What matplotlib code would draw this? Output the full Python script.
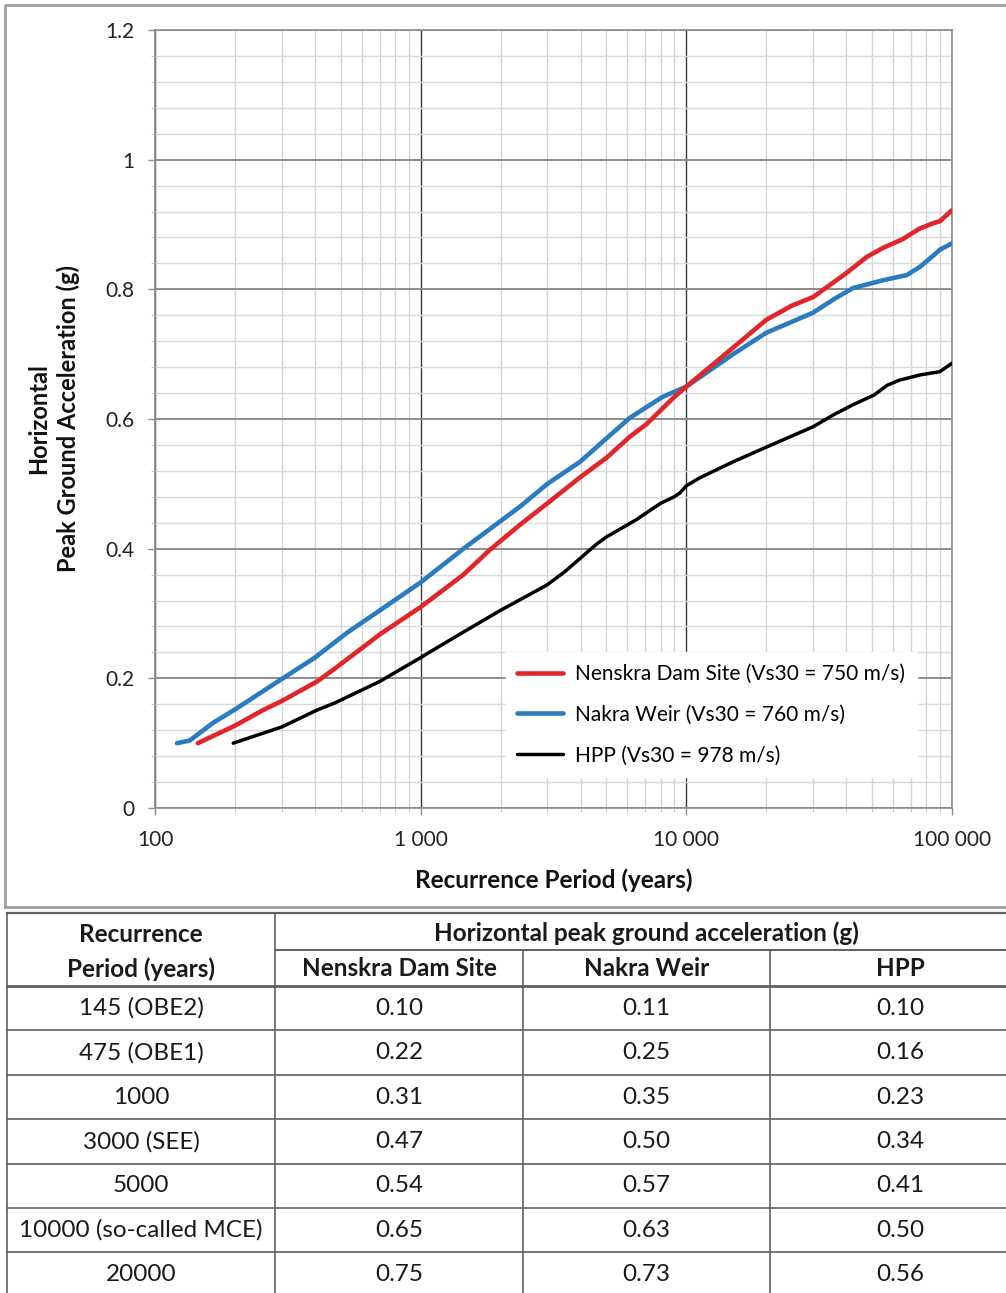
import numpy as np
import matplotlib
matplotlib.use('Agg')
import matplotlib.pyplot as plt
from matplotlib.ticker import FixedLocator, LogLocator, MultipleLocator, FuncFormatter, NullFormatter

plt.rcParams['font.family'] = ['Lato', 'DejaVu Sans']

# ---- curve data ----
nenskra_T = [145, 200, 255, 300, 407, 475, 607, 703, 1000, 1450, 1820, 2367, 3000,
             3980, 5000, 6140, 7080, 8900, 10000, 15000, 20000, 25000, 30000, 40000,
             47800, 55000, 65000, 75000, 85000, 90000, 100000]
nenskra_pga = [0.10, 0.127, 0.151, 0.165, 0.195, 0.215, 0.248, 0.268, 0.31, 0.36, 0.398,
               0.437, 0.47, 0.51, 0.54, 0.573, 0.592, 0.632, 0.650, 0.71, 0.753, 0.775,
               0.788, 0.825, 0.85, 0.864, 0.877, 0.893, 0.902, 0.905, 0.922]

nakra_T = [121, 135, 165, 200, 295, 400, 527, 703, 1000, 1450, 2367, 3000, 3980, 5000,
           6140, 8130, 10000, 15000, 20000, 30000, 36000, 42400, 55000, 67600, 75900,
           85000, 90000, 100000]
nakra_pga = [0.10, 0.104, 0.131, 0.152, 0.197, 0.232, 0.27, 0.305, 0.348, 0.40, 0.465,
             0.50, 0.534, 0.57, 0.602, 0.634, 0.65, 0.70, 0.733, 0.764, 0.785, 0.802,
             0.814, 0.822, 0.835, 0.852, 0.861, 0.871]

hpp_T = [197, 300, 407, 475, 700, 1000, 1150, 1500, 2000, 2990, 3500, 4560, 5000, 6500,
         8000, 9000, 9460, 10000, 11200, 15000, 20100, 30000, 36000, 42400, 50900,
         57000, 63500, 75900, 90000, 100000]
hpp_pga = [0.10, 0.125, 0.151, 0.162, 0.195, 0.232, 0.247, 0.275, 0.305, 0.344, 0.365,
           0.406, 0.418, 0.445, 0.47, 0.48, 0.486, 0.497, 0.509, 0.534, 0.557, 0.588,
           0.607, 0.622, 0.637, 0.652, 0.66, 0.668, 0.673, 0.686]

legend_labels = ['Nenskra Dam Site (Vs30 = 750 m/s)',
                 'Nakra Weir (Vs30 = 760 m/s)',
                 'HPP (Vs30 = 978 m/s)']

# ---- table data ----
tab_periods = ['145 (OBE2)', '475 (OBE1)', '1000', '3000 (SEE)', '5000',
               '10000 (so-called MCE)', '20000']
tab_nenskra = ['0.10', '0.22', '0.31', '0.47', '0.54', '0.65', '0.75']
tab_nakra = ['0.11', '0.25', '0.35', '0.50', '0.57', '0.63', '0.73']
tab_hpp = ['0.10', '0.16', '0.23', '0.34', '0.41', '0.50', '0.56']
tab_sites = ['Nenskra Dam Site', 'Nakra Weir', 'HPP']

W, H = 1006, 1293
fig = plt.figure(figsize=(W / 100, H / 100), dpi=100)

# overlay in pixel coords for the frame and table
bg = fig.add_axes([0, 0, 1, 1])
bg.set_xlim(0, W)
bg.set_ylim(H, 0)
bg.axis('off')

ax = fig.add_axes([155 / W, 1 - 808 / H, (952 - 155) / W, (808 - 30) / H])
ax.set_xscale('log')
ax.set_xlim(100, 100000)
ax.set_ylim(0, 1.2)

ax.plot(nenskra_T, nenskra_pga, color='#e0262b', lw=3.3, label=legend_labels[0],
        solid_capstyle='round', solid_joinstyle='round', zorder=5)
ax.plot(nakra_T, nakra_pga, color='#2b7bbf', lw=3.3, label=legend_labels[1],
        solid_capstyle='round', solid_joinstyle='round', zorder=4)
ax.plot(hpp_T, hpp_pga, color='black', lw=2.5, label=legend_labels[2],
        solid_capstyle='round', solid_joinstyle='round', zorder=6)

# grid
ax.yaxis.set_major_locator(MultipleLocator(0.2))
ax.yaxis.set_minor_locator(MultipleLocator(0.04))
ax.xaxis.set_major_locator(FixedLocator([100, 1000, 10000, 100000]))
ax.xaxis.set_minor_locator(LogLocator(base=10, subs=np.arange(2, 10)))
ax.xaxis.set_minor_formatter(NullFormatter())
ax.grid(axis='y', which='major', color='#8c8c8c', lw=1.4)
ax.grid(axis='y', which='minor', color='#d9d9d9', lw=1.0)
ax.grid(axis='x', which='major', color='#3a3a3a', lw=1.0)
ax.grid(axis='x', which='minor', color='#d4d4d4', lw=1.0)
ax.set_axisbelow(True)

def yfmt(v, pos):
    s = '%.1f' % v
    if s.endswith('.0'):
        s = s[:-2]
    return s

def xfmt(v, pos):
    return '{:,}'.format(int(round(v))).replace(',', ' ')

ax.yaxis.set_major_formatter(FuncFormatter(yfmt))
ax.xaxis.set_major_formatter(FuncFormatter(xfmt))
ax.tick_params(axis='both', which='major', labelsize=15, colors='#8c8c8c',
               labelcolor='#222222', length=5, width=1)
ax.tick_params(axis='both', which='minor', colors='#bfbfbf', length=3)
ax.tick_params(axis='x', pad=11)
ax.tick_params(axis='y', pad=10)
for s in ax.spines.values():
    s.set_color('#8c8c8c')
    s.set_linewidth(1.2)

ax.set_xlabel('Recurrence Period (years)', fontsize=17.5, fontweight='bold',
              labelpad=13, color='#111111')
ax.set_ylabel('Horizontal\nPeak Ground Acceleration (g)', fontsize=17,
              fontweight='bold', labelpad=18, color='#111111', linespacing=1.3)

leg = ax.legend(loc='upper left', bbox_to_anchor=(0.44, 0.2), fontsize=15,
                frameon=True, framealpha=1, fancybox=False, edgecolor='white',
                handlelength=2.2, handletextpad=0.6, labelspacing=1.0,
                borderpad=0.55, borderaxespad=0)

# chart frame
bg.plot([5, 5, W + 5], [907, 5, 5], color='#a0a0a0', lw=2, clip_on=False)
bg.plot([5, W + 5], [907, 907], color='#a0a0a0', lw=2)

# table grid
x0, c1, c2, c3, x1 = 7, 275, 523, 770, W + 5
y_top, y_mid, y_head = 913, 950, 986
row_h = 44.4
row_lines = [y_head + row_h * (i + 1) for i in range(len(tab_periods))]
lc = '#606060'
bg.plot([x0, x1], [y_top, y_top], color=lc, lw=1.6)
bg.plot([c1, x1], [y_mid, y_mid], color=lc, lw=1.4)
bg.plot([x0, x1], [y_head, y_head], color=lc, lw=2.0)
for yl in row_lines:
    bg.plot([x0, x1], [yl, yl], color=lc, lw=1.2)
bg.plot([x0, x0], [y_top, H], color=lc, lw=1.2)
bg.plot([c1, c1], [y_top, H], color=lc, lw=1.2)
for cx in (c2, c3):
    bg.plot([cx, cx], [y_mid, H], color=lc, lw=1.2)

tfs = 17.5
bg.text((x0 + c1) / 2, 934, 'Recurrence', ha='center', va='center', fontsize=tfs,
        fontweight='bold', color='#1a1a1a')
bg.text((x0 + c1) / 2, 969, 'Period (years)', ha='center', va='center', fontsize=tfs,
        fontweight='bold', color='#1a1a1a')
bg.text((c1 + 1006) / 2 + 6, 933, 'Horizontal peak ground acceleration (g)',
        ha='center', va='center', fontsize=tfs, fontweight='bold', color='#1a1a1a')
col_centres = [(c1 + c2) / 2, (c2 + c3) / 2, (c3 + 1006) / 2 + 12]
for cx, name in zip(col_centres, tab_sites):
    bg.text(cx, 969, name, ha='center', va='center', fontsize=tfs,
            fontweight='bold', color='#1a1a1a')

for i, per in enumerate(tab_periods):
    yc = y_head + row_h * (i + 0.5)
    bg.text((x0 + c1) / 2, yc, per, ha='center', va='center', fontsize=tfs,
            color='#1a1a1a')
    for cx, col in zip(col_centres, (tab_nenskra, tab_nakra, tab_hpp)):
        bg.text(cx, yc, col[i], ha='center', va='center', fontsize=tfs,
                color='#1a1a1a')

fig.savefig('out.png', dpi=100)
